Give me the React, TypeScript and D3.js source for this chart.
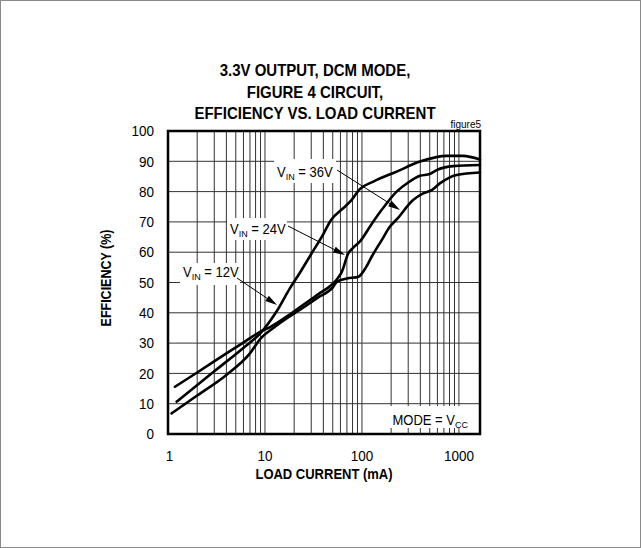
import React from 'react';
import * as d3 from 'd3';

// ---- data (load current in mA, efficiency in %) ----
const xTickValues = [1, 10, 100, 1000];
const xTickLabels = ['1', '10', '100', '1000'];
const yTickValues = [0, 10, 20, 30, 40, 50, 60, 70, 80, 90, 100];

const v12Current = [1.23, 3, 6.2, 9, 13.2, 18, 23, 30, 40, 48, 64, 78, 95, 131, 228, 396, 750, 1100, 1650];
const v12Eff = [10.7, 20.7, 28.8, 33.3, 40.5, 48, 53.3, 59.4, 66, 70.6, 74.5, 77.2, 80.8, 83.3, 86.6, 89.9, 91.8, 91.8, 90.6];

const v24Current = [1.18, 2, 4, 6.2, 9, 11.3, 17, 23, 35, 50, 55, 62, 72, 80, 95, 130, 160, 228, 300, 396, 500, 590, 870, 1650];
const v24Eff = [15.6, 20.3, 26.6, 30.5, 33.8, 35.3, 38.9, 41.9, 46, 49.6, 51, 53.5, 59.5, 61.3, 63.5, 70, 74, 80, 83, 85.2, 85.8, 87.1, 88.4, 88.8];

const v36Current = [1.09, 2, 4, 7, 9, 12.2, 17, 23, 35, 50, 55, 70, 92, 110, 126, 160, 194, 228, 337, 428, 524, 635, 947, 1650];
const v36Eff = [6.8, 12.7, 19.5, 26.6, 31.5, 35, 38.3, 41, 45, 48.4, 50.2, 51.3, 51.9, 55, 58.5, 64, 68.4, 70.8, 77.2, 79.4, 80.5, 82.7, 85.5, 86.3];

const titleLines = ['3.3V OUTPUT, DCM MODE,', 'FIGURE 4 CIRCUIT,', 'EFFICIENCY VS. LOAD CURRENT'];

const FONT = "'Liberation Sans', Arial, Helvetica, sans-serif";
const STRETCH = 1.1;

function zip(a: number[], b: number[]): [number, number][] {
  return a.map((v, i) => [v, b[i]] as [number, number]);
}

function T({ x, y, rot, children, ...rest }: any) {
  const tr = `translate(${x},${y})${rot ? ` rotate(${rot})` : ''} scale(1,${STRETCH})`;
  return (
    <text transform={tr} fontFamily={FONT} {...rest}>
      {children}
    </text>
  );
}

function Arrow({ x1, y1, x2, y2 }: { x1: number; y1: number; x2: number; y2: number }) {
  const dx = x2 - x1, dy = y2 - y1;
  const len = Math.sqrt(dx * dx + dy * dy);
  const ux = dx / len, uy = dy / len;
  const nx = -uy, ny = ux;
  const L = 12, Wd = 3.2;
  const bx = x2 - ux * L, by = y2 - uy * L;
  const pts = `${x2},${y2} ${bx + nx * Wd},${by + ny * Wd} ${bx - nx * Wd},${by - ny * Wd}`;
  return (
    <g>
      <line x1={x1} y1={y1} x2={bx + ux * 2} y2={by + uy * 2} stroke="#000" strokeWidth={1} />
      <polygon points={pts} fill="#000" />
    </g>
  );
}

export default function App() {
  const W = 641, H = 548;
  const x = d3.scaleLog().domain([1, 1650]).range([168, 480]);
  const y = d3.scaleLinear().domain([0, 100]).range([434, 131]);

  const minorX: number[] = [];
  [1, 10, 100, 1000].forEach((dec) => {
    for (let k = 1; k <= 9; k++) {
      const v = k * dec;
      if (v > 1 && v < 1650) minorX.push(v);
    }
  });

  const line = d3
    .line<[number, number]>()
    .x((d) => x(d[0]))
    .y((d) => y(d[1]))
    .curve(d3.curveMonotoneX);

  const series = [zip(v12Current, v12Eff), zip(v24Current, v24Eff), zip(v36Current, v36Eff)];

  return (
    <svg width={W} height={H} style={{ position: 'absolute', left: 0, top: 0, background: '#fff' }}>
      <rect x={0.5} y={0.5} width={W - 1} height={H - 1} fill="#fff" stroke="#8a8a8a" strokeWidth={1} />

      {/* title */}
      {titleLines.map((t, i) => (
        <T key={t} x={315} y={76 + i * 21.5} textAnchor="middle" fontWeight="bold" fontSize={15}>
          {t}
        </T>
      ))}
      <T x={481} y={128} textAnchor="end" fontSize={10}>figure5</T>

      {/* grid */}
      {minorX.map((v) => (
        <line key={'vx' + v} x1={x(v)} x2={x(v)} y1={y(0)} y2={y(100)} stroke="#333" strokeWidth={1} />
      ))}
      {yTickValues.slice(1, -1).map((v) => (
        <line key={'hy' + v} x1={x(1)} x2={x(1650)} y1={y(v)} y2={y(v)} stroke="#333" strokeWidth={1} />
      ))}

      {/* label boxes masking grid */}
      <rect x={274} y={159} width={62} height={24} fill="#fff" />
      <rect x={227} y={218} width={60} height={22} fill="#fff" />
      <rect x={180} y={263} width={60} height={22} fill="#fff" />
      <rect x={389} y={406} width={86} height={22} fill="#fff" />

      {/* curves */}
      {series.map((s, i) => (
        <path key={i} d={line(s) || ''} fill="none" stroke="#000" strokeWidth={2.6} strokeLinejoin="round" strokeLinecap="round" />
      ))}

      {/* frame */}
      <rect x={x(1)} y={y(100)} width={x(1650) - x(1)} height={y(0) - y(100)} fill="none" stroke="#000" strokeWidth={2.5} />

      {/* y tick labels */}
      {yTickValues.map((v) => (
        <T key={'yt' + v} x={154} y={y(v) + 5.2} textAnchor="end" fontSize={13.5}>{v}</T>
      ))}
      {/* x tick labels */}
      {xTickValues.map((v, i) => (
        <T key={'xt' + v} x={x(v) + (i === 0 ? 1.5 : 0)} y={460.5} textAnchor="middle" fontSize={13.5}>{xTickLabels[i]}</T>
      ))}

      {/* axis titles */}
      <T x={324} y={479} textAnchor="middle" fontWeight="bold" fontSize={13}>LOAD CURRENT (mA)</T>
      <T x={111} y={278} rot={-90} textAnchor="middle" fontWeight="bold" fontSize={12.5}>EFFICIENCY (%)</T>

      {/* annotations */}
      <T x={277} y={177} fontSize={13}>
        V<tspan fontSize={9} dy={3}>IN</tspan><tspan dy={-3}> = 36V</tspan>
      </T>
      <T x={230} y={233.5} fontSize={13}>
        V<tspan fontSize={9} dy={3}>IN</tspan><tspan dy={-3}> = 24V</tspan>
      </T>
      <T x={183} y={277} fontSize={13}>
        V<tspan fontSize={9} dy={3}>IN</tspan><tspan dy={-3}> = 12V</tspan>
      </T>
      <T x={392.5} y={424.5} fontSize={13}>
        MODE = V<tspan fontSize={9} dy={3}>CC</tspan>
      </T>

      <Arrow x1={337} y1={170} x2={400} y2={210} />
      <Arrow x1={288} y1={226} x2={345} y2={255} />
      <Arrow x1={237} y1={278} x2={277} y2={305} />
    </svg>
  );
}
